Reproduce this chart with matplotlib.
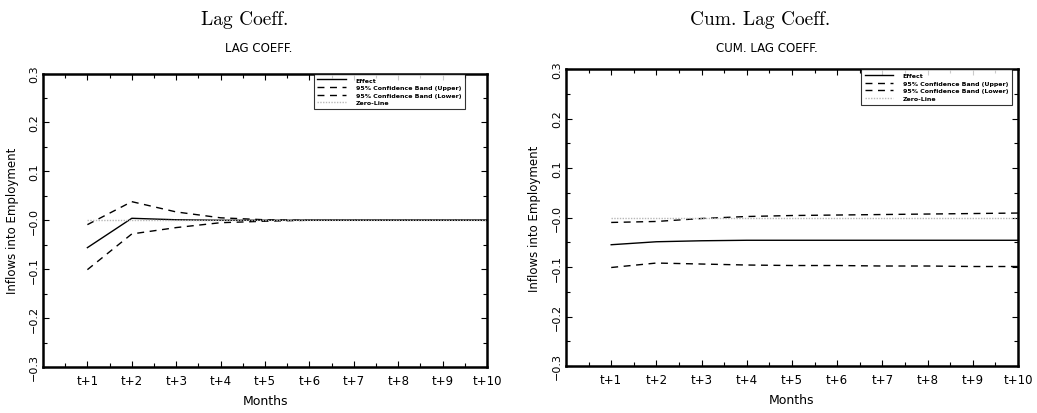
import matplotlib
matplotlib.use("Agg")
import matplotlib.pyplot as plt
import numpy as np

months = ["t+1", "t+2", "t+3", "t+4", "t+5", "t+6", "t+7", "t+8", "t+9", "t+10"]
ytick_labels = ["\u22120.3", "\u22120.2", "\u22120.1", "\u22120.0", "0.1", "0.2", "0.3"]
yticks = [-0.3, -0.2, -0.1, 0.0, 0.1, 0.2, 0.3]

lag_effect = [-0.056, 0.004, 0.001, 0.0, 0.0, 0.0, 0.0, 0.0, 0.0, 0.0]
lag_upper = [-0.009, 0.038, 0.017, 0.005, 0.001, 0.0, 0.0, 0.0, 0.0, 0.0]
lag_lower = [-0.101, -0.028, -0.015, -0.005, -0.002, 0.0, 0.0, 0.0, 0.0, 0.0]

cum_effect = [-0.055, -0.049, -0.047, -0.046, -0.046, -0.046, -0.046, -0.046, -0.046, -0.046]
cum_upper = [-0.010, -0.008, -0.002, 0.002, 0.004, 0.005, 0.006, 0.007, 0.008, 0.009]
cum_lower = [-0.101, -0.092, -0.094, -0.096, -0.097, -0.097, -0.098, -0.098, -0.099, -0.099]
zero_line = [0.0] * 10

W, H = 1037, 414
fig = plt.figure(figsize=(W / 100, H / 100), dpi=100)


def make_panel(rect, effect, upper, lower, title, subtitle, title_x, sub_x, leg_x, ylab_x):
    ax = fig.add_axes(rect)
    x = np.arange(1, len(months) + 1)
    ax.plot(x, effect, color="black", lw=1.0, label="Effect")
    ax.plot(x, upper, color="black", lw=1.0, ls=(0, (5, 4)), label="95% Confidence Band (Upper)")
    ax.plot(x, lower, color="black", lw=1.0, ls=(0, (5, 4)), label="95% Confidence Band (Lower)")
    ax.plot(x, zero_line, color="#b8b8b8", lw=1.0, ls=(0, (1, 1)), label="Zero-Line")
    ax.set_xlim(0, 10)
    ax.set_ylim(-0.3, 0.3)
    ax.set_xticks(x)
    ax.set_xticklabels(months, fontsize=8.5)
    ax.set_xticks(np.arange(0.5, 10, 1.0), minor=True)
    ax.set_yticks(yticks)
    ax.set_yticklabels(ytick_labels, fontsize=8, rotation=90, va="center")
    ax.set_yticks([-0.25, -0.15, -0.05, 0.05, 0.15, 0.25], minor=True)
    ax.tick_params(which="both", direction="in", top=True, right=True, width=0.8)
    ax.tick_params(which="major", length=4)
    ax.tick_params(which="minor", length=3)
    ax.tick_params(axis="x", which="major", pad=5)
    ax.tick_params(axis="y", which="major", pad=3)
    for s in ax.spines.values():
        s.set_linewidth(1.8)
    ax.set_xlabel("Months", fontsize=9, labelpad=5)
    ax.set_ylabel("Inflows into Employment", fontsize=8.5)
    ax.yaxis.set_label_coords(ylab_x, 0.5)
    leg = ax.legend(loc="upper right", bbox_to_anchor=(leg_x, 1.0),
                    prop={"size": 4.5, "weight": "bold"}, frameon=True, fancybox=False,
                    edgecolor="black", handlelength=4.5, labelspacing=0.35,
                    borderpad=0.6, handletextpad=1.6, borderaxespad=0.0)
    leg.get_frame().set_linewidth(0.8)
    fig.text(title_x / W, 1 - 20 / H, title, family="cmr10", fontsize=14,
             ha="center", va="center")
    fig.text(sub_x / W, 1 - 49 / H, subtitle, fontsize=8.5, ha="center", va="center")
    return ax


make_panel([43 / W, (H - 368) / H, 444 / W, 293.5 / H], lag_effect, lag_upper, lag_lower,
           "Lag Coeff.", "LAG COEFF.", 245, 259, 0.95, -0.053)
make_panel([566 / W, (H - 367) / H, 452 / W, 297 / H], cum_effect, cum_upper, cum_lower,
           "Cum. Lag Coeff.", "CUM. LAG COEFF.", 760, 767, 0.987, -0.055)

fig.savefig("out.png", dpi=100)
